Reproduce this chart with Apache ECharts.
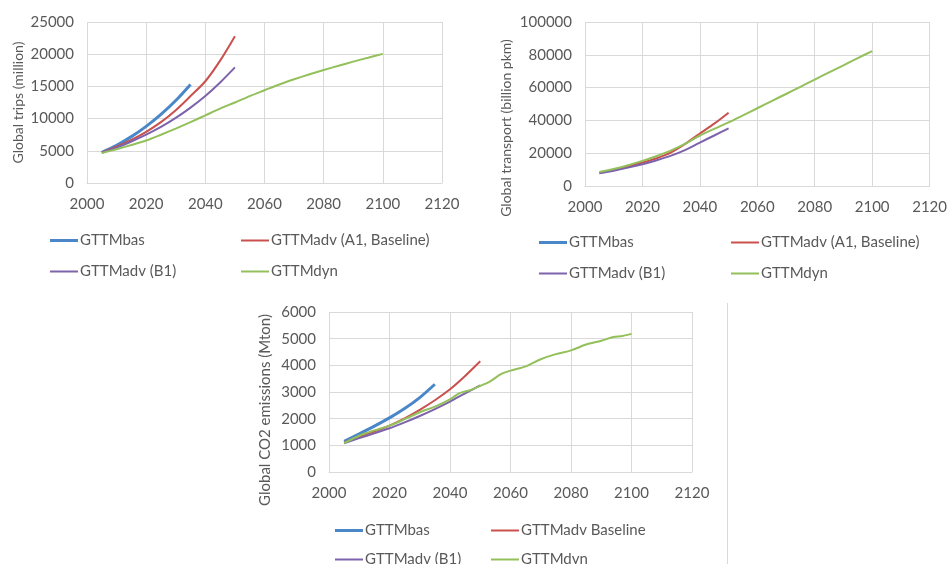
<!DOCTYPE html>
<html>
<head>
<meta charset="utf-8">
<script src="https://cdn.jsdelivr.net/npm/echarts@6/dist/echarts.min.js"></script>
<style>
html,body{margin:0;padding:0;background:#fff;}
#chart{width:950px;height:564px;}
</style>
</head>
<body>
<div id="chart"></div>
<script>
// ---------- data ----------
const xTicks = [2000, 2020, 2040, 2060, 2080, 2100, 2120];

const yearsBas = [2005, 2010, 2015, 2020, 2025, 2030, 2035];
const yearsAdv = [2005, 2010, 2015, 2020, 2025, 2030, 2035, 2040, 2045, 2050];
const yearsDyn = [2005, 2010, 2015, 2020, 2025, 2030, 2035, 2040, 2045, 2050,
                  2055, 2060, 2065, 2070, 2075, 2080, 2085, 2090, 2095, 2100];
const yearsDynCO2 = [2005, 2010, 2015, 2020, 2025, 2030, 2035, 2040, 2043, 2047,
                     2050, 2053, 2057, 2060, 2065, 2070, 2075, 2080, 2085, 2090,
                     2094, 2097, 2100];

// Global trips (million)
const tripsBas = [4750, 5850, 7200, 8800, 10650, 12800, 15300];
const tripsAdvA1 = [4750, 5650, 6700, 7950, 9450, 11300, 13500, 15800, 19000, 22800];
const tripsAdvB1 = [4750, 5500, 6450, 7500, 8700, 10100, 11700, 13500, 15600, 17950];
const tripsDyn = [4650, 5250, 5900, 6600, 7500, 8450, 9450, 10500, 11550, 12500,
                  13500, 14400, 15300, 16100, 16850, 17550, 18200, 18850, 19450, 20050];

// Global transport (billion pkm)
const pkmBas = [];
const pkmAdvA1 = [8000, 9700, 11800, 14300, 16900, 20500, 25800, 32000, 38000, 44700];
const pkmAdvB1 = [7700, 9300, 11200, 13300, 15700, 18500, 22000, 26500, 30800, 35200];
const pkmDyn = [8600, 10400, 12700, 15300, 18300, 21700, 25800, 30800, 34800, 38800,
                43100, 47400, 51800, 56100, 60500, 64900, 69300, 73600, 78000, 82300];

// Global CO2 emissions (Mton)
const co2Bas = [1150, 1430, 1720, 2030, 2380, 2790, 3290];
const co2AdvBase = [1100, 1320, 1520, 1740, 2010, 2330, 2690, 3100, 3600, 4150];
const co2AdvB1 = [1080, 1270, 1450, 1640, 1860, 2100, 2360, 2640, 2950, 3250];
const co2Dyn = [1080, 1360, 1560, 1740, 1980, 2240, 2450, 2720, 2950, 3080,
                3230, 3380, 3680, 3800, 3960, 4230, 4420, 4560, 4780, 4920,
                5060, 5100, 5180];

const names1 = ['GTTMbas', 'GTTMadv (A1, Baseline)', 'GTTMadv (B1)', 'GTTMdyn'];
const names3 = ['GTTMbas', 'GTTMadv Baseline', 'GTTMadv (B1)', 'GTTMdyn'];
const yTitles = ['Global trips (million)', 'Global transport (billion pkm)', 'Global CO2 emissions (Mton)'];

// ---------- styling ----------
const colors = ['#4a87c9', '#c9504d', '#7d63ab', '#93c05a'];
const widths = [3, 2, 2, 2];
const FONT = 'Lato, "Open Sans", sans-serif';
const TXT = '#595959';
const GRID = '#d9d9d9';

function zip(xs, ys) { return ys.map((v, i) => [xs[i], v]); }

const grids = [
  { left: 87, top: 22, width: 355, height: 161 },
  { left: 585, top: 22, width: 347, height: 164 },
  { left: 329, top: 312, width: 363, height: 160 }
];
const yMax = [25000, 100000, 6000];
const yInt = [5000, 20000, 1000];
const nameGaps = [62, 72, 56];
const nameSizes = [14, 14, 15];
const namePad = [[0, 0, 0, 0], [0, 48, 0, 0], [0, 36, 0, 0]];

const xAxes = grids.map((g, i) => ({
  type: 'value', gridIndex: i, min: xTicks[0], max: xTicks[xTicks.length - 1], interval: 20,
  axisLine: { show: true, lineStyle: { color: GRID, width: 1 } },
  axisTick: { show: false },
  splitLine: { show: true, lineStyle: { color: GRID, width: 1 } },
  axisLabel: { color: TXT, fontFamily: FONT, fontSize: 15, margin: 14, formatter: v => String(v) }
}));
const yAxes = grids.map((g, i) => ({
  type: 'value', gridIndex: i, min: 0, max: yMax[i], interval: yInt[i],
  name: yTitles[i], nameLocation: 'middle', nameGap: nameGaps[i], nameRotate: 90,
  nameTextStyle: { color: TXT, fontFamily: FONT, fontSize: nameSizes[i], padding: namePad[i] },
  axisLine: { show: false },
  axisTick: { show: false },
  splitLine: { show: true, lineStyle: { color: GRID, width: 1 } },
  axisLabel: { color: TXT, fontFamily: FONT, fontSize: 15, margin: 13, formatter: v => String(v) }
}));

function mk(name, idx, gi, xs, ys) {
  return {
    name: name, type: 'line', xAxisIndex: gi, yAxisIndex: gi,
    data: zip(xs, ys), smooth: 0.3, symbol: 'none', silent: true,
    lineStyle: { color: colors[idx], width: widths[idx] },
    itemStyle: { color: colors[idx] }
  };
}

const series = [
  mk(names1[0], 0, 0, yearsBas, tripsBas),
  mk(names1[1], 1, 0, yearsAdv, tripsAdvA1),
  mk(names1[2], 2, 0, yearsAdv, tripsAdvB1),
  mk(names1[3], 3, 0, yearsDyn, tripsDyn),
  mk(names1[0], 0, 1, [], pkmBas),
  mk(names1[1], 1, 1, yearsAdv, pkmAdvA1),
  mk(names1[2], 2, 1, yearsAdv, pkmAdvB1),
  mk(names1[3], 3, 1, yearsDyn, pkmDyn),
  mk(names3[0], 0, 2, yearsBas, co2Bas),
  mk(names3[1], 1, 2, yearsAdv, co2AdvBase),
  mk(names3[2], 2, 2, yearsAdv, co2AdvB1),
  mk(names3[3], 3, 2, yearsDynCO2, co2Dyn)
];

const ICON3 = 'path://M0,0L28,0L28,3L0,3Z';
const ICON2 = 'path://M0,0L28,0L28,2L0,2Z';
function item(name) {
  return { name: name, icon: name === 'GTTMbas' ? ICON3 : ICON2 };
}
function legend(names, left, top, gap) {
  return {
    orient: 'vertical', left: left, top: top, itemGap: gap, height: 120,
    itemWidth: 28, itemHeight: 14, selectedMode: false, symbolKeepAspect: true,
    textStyle: { color: TXT, fontFamily: FONT, fontSize: 15, padding: [0, 0, 0, -3] },
    data: names.map(item)
  };
}
const legends = [
  legend([names1[0], names1[2]], 45, 228, 16),
  legend([names1[1], names1[3]], 236, 228, 16),
  legend([names1[0], names1[2]], 534, 230, 16),
  legend([names1[1], names1[3]], 726, 230, 16),
  legend([names3[0], names3[2]], 330, 518, 14),
  legend([names3[1], names3[3]], 486, 518, 14)
];

const chart = echarts.init(document.getElementById('chart'), null, { renderer: 'canvas' });
chart.setOption({
  backgroundColor: '#ffffff',
  animation: false,
  grid: grids,
  xAxis: xAxes,
  yAxis: yAxes,
  legend: legends,
  series: series,
  graphic: [{
    type: 'line', silent: true,
    shape: { x1: 727.5, y1: 303, x2: 727.5, y2: 564 },
    style: { stroke: GRID, lineWidth: 1 }
  }]
});
</script>
</body>
</html>
